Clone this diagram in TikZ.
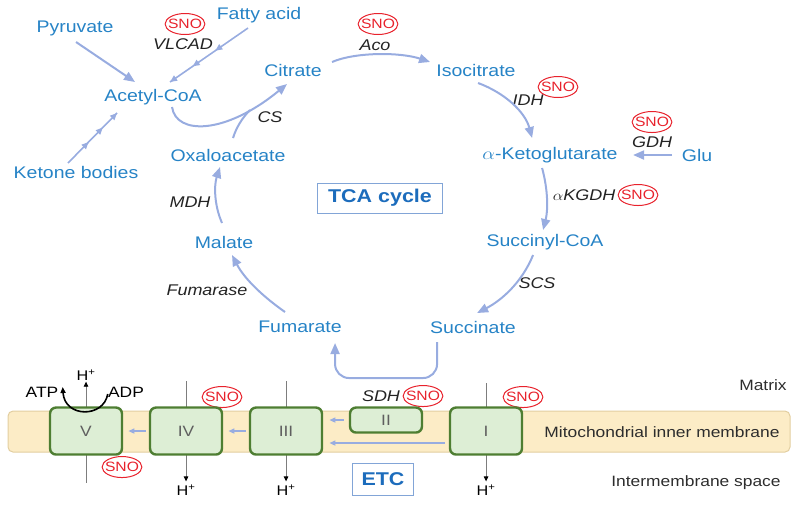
\documentclass[tikz,border=0pt]{standalone}
\usepackage{fontspec}
\setmainfont{Liberation Sans}
\usetikzlibrary{arrows.meta, calc, shapes.geometric, decorations.markings, backgrounds}
\definecolor{metblue}{RGB}{38,131,198}
\definecolor{arrowc}{RGB}{152,172,224}
\definecolor{snored}{RGB}{232,34,44}
\definecolor{enzgray}{RGB}{35,35,35}
\definecolor{labgray}{RGB}{45,45,45}
\definecolor{numgray}{RGB}{95,95,95}
\definecolor{linegray}{RGB}{125,125,125}
\definecolor{memfill}{RGB}{252,236,198}
\definecolor{memdraw}{RGB}{226,206,160}
\definecolor{cfill}{RGB}{221,238,213}
\definecolor{cdraw}{RGB}{78,126,50}
\definecolor{boxdraw}{RGB}{130,165,215}
\definecolor{boxtext}{RGB}{28,108,188}

\begin{document}
\begin{tikzpicture}[x=0.862pt, y=-1pt, xscale=1.16,
  every node/.append style={transform shape},
  met/.style={text=metblue, inner sep=1pt, font=\fontsize{16.8}{20}\selectfont},
  enz/.style={text=enzgray, inner sep=1pt, font=\fontsize{15.5}{18}\selectfont\itshape},
  sno/.style={ellipse, draw=snored, text=snored, line width=1pt, inner xsep=-2.5pt, inner ysep=0pt, minimum height=21pt, font=\fontsize{13.5}{15}\selectfont},
  cplx/.style={draw=cdraw, fill=cfill, line width=2.4pt, rounded corners=6pt, minimum width=62pt, minimum height=47pt, text=numgray, font=\fontsize{15}{18}\selectfont},
  lbl/.style={text=labgray, inner sep=1pt, font=\fontsize{15}{18}\selectfont},
  hplus/.style={inner sep=1pt, font=\fontsize{14}{16}\selectfont},
  titlebox/.style={draw=boxdraw, line width=1pt, text=boxtext, font=\fontsize{18.5}{22}\selectfont\bfseries},
  flow/.style={draw=arrowc, line width=2pt, -{Triangle[length=11pt,width=9pt]}},
  multi/.style={draw=arrowc, line width=1.6pt, postaction=decorate,
    decoration={markings,
      mark=at position 0.42 with {\arrow{Triangle[length=7pt,width=6pt]}},
      mark=at position 0.71 with {\arrow{Triangle[length=7pt,width=6pt]}},
      mark=at position 1 with {\arrow{Triangle[length=7pt,width=6pt]}}}},
  memflow/.style={draw=arrowc, line width=1.4pt, -{Triangle[length=6pt,width=5pt]}},
  proton/.style={draw=linegray, line width=0.8pt, -{Triangle[length=5pt,width=4.5pt,color=black]}},
  atpflow/.style={draw=black, line width=1.6pt, -{Triangle[length=6pt,width=5pt]}}]
\useasboundingbox (0,0) rectangle (800,504);

% metabolites
\node[met] (pyr) at (75,28) {Pyruvate};
\node[met] (fa) at (259,15) {Fatty acid};
\node[met] (acoa) at (153,97) {Acetyl-CoA};
\node[met] (ket) at (76,172) {Ketone bodies};
\node[met] (cit) at (293,70) {Citrate};
\node[met] (iso) at (476,70) {Isocitrate};
\node[met] (akg) at (550,155) {$\alpha$-Ketoglutarate};
\node[met] (glu) at (697,155) {Glu};
\node[met] (sca) at (545,242) {Succinyl-CoA};
\node[met] (suc) at (473,327) {Succinate};
\node[met] (fum) at (300,327) {Fumarate};
\node[met] (mal) at (224,242) {Malate};
\node[met] (oaa) at (228,155) {Oxaloacetate};
\node[titlebox, minimum width=107pt, minimum height=30pt] (tca) at (380,198) {TCA cycle};

% enzymes
\node[enz] (vlcad) at (183,44) {VLCAD};
\node[enz] (aco) at (375,45) {Aco};
\node[enz] (idh) at (528,100) {IDH};
\node[enz] (gdh) at (652,142) {GDH};
\node[enz] (akgdh) at (584,195) {$\alpha$KGDH};
\node[enz] (scs) at (537,283) {SCS};
\node[enz] (fumase) at (207,290) {Fumarase};
\node[enz] (mdh) at (190,202) {MDH};
\node[enz] (cs) at (270,117) {CS};
\node[enz] (sdh) at (381,396) {SDH};

% SNO sites
\foreach \n/\x/\y in {vlcad/185/24, aco/378/24, idh/558/87, gdh/652/122, akgdh/638/195,
                      sdh/423/396, cIV/222/397, cV/122/467, cI/523/397}
  \node[sno] (sno-\n) at (\x,\y) {SNO};

% TCA connectors
\draw[flow] ($(pyr)+(1,14)$) -- ($(acoa)+(-18,-15)$);
\draw[multi] ($(fa)+(-11,13)$) -- ($(acoa)+(17,-15)$);
\draw[multi] ($(ket)+(-8,-9)$) -- ($(acoa)+(-36,16)$);
\draw[flow] ($(acoa)+(19,10)$) .. controls ($(acoa)+(23,38)$) and ($(cit)+(-68,65)$) .. ($(cit)+(-6,14)$);
\draw[draw=arrowc, line width=2pt] ($(oaa)+(5,-17)$) .. controls ($(oaa)+(8,-27)$) and ($(oaa)+(14,-37)$) .. ($(oaa)+(22,-45)$);
\draw[flow] ($(cit)+(39,-8)$) .. controls ($(cit)+(62,-18)$) and ($(iso)+(-76,-18)$) .. ($(iso)+(-46,-8)$);
\draw[flow] ($(iso)+(2,13)$) .. controls ($(iso)+(29,23)$) and ($(akg)+(-25,-43)$) .. ($(akg)+(-18,-17)$);
\draw[flow] ($(akg)+(-8,13)$) .. controls ($(akg)+(-2,35)$) and ($(sca)+(3,-32)$) .. ($(sca)+(-2,-12)$);
\draw[flow] ($(sca)+(-12,13)$) .. controls ($(sca)+(-23,40)$) and ($(suc)+(29,-27)$) .. ($(suc)+(4,-14)$);
\draw[flow, rounded corners=14pt] ($(suc)+(-36,15)$) |- ($(fum)+(35,51)$) -- ($(fum)+(35,16)$);
\draw[flow] ($(fum)+(-15,-15)$) .. controls ($(fum)+(-35,-29)$) and ($(mal)+(21,38)$) .. ($(mal)+(8,13)$);
\draw[flow] ($(mal)+(-2,-19)$) .. controls ($(mal)+(-10,-37)$) and ($(oaa)+(-14,30)$) .. ($(oaa)+(-8,12)$);
\draw[flow] ($(glu)+(-25,0)$) -- ($(akg)+(83,0)$);

% membrane
\draw[draw=memdraw, fill=memfill, line width=1pt, rounded corners=5pt] (8,411) rectangle (790,452);
\foreach \n/\x/\t in {c5/86/V, c4/186/IV, c3/286/III, c1/486/I}
  \node[cplx] (\n) at (\x,431) {\t};
\node[cplx, minimum height=25pt] (c2) at (386,420) {II};

\node[lbl] (matrix) at (763,385) {Matrix};
\node[lbl] (imm) at (662,432) {Mitochondrial inner membrane};
\node[lbl] (ims) at (696,483) {Intermembrane space};
\node[titlebox, minimum width=52pt, minimum height=32pt] (etc) at (383,479) {ETC};

% protons
\node[hplus] (hV) at (86,375) {H\textsuperscript{+}};
\node[hplus] (hIV) at (186,490) {H\textsuperscript{+}};
\node[hplus] (hIII) at (286,490) {H\textsuperscript{+}};
\node[hplus] (hI) at (486,490) {H\textsuperscript{+}};
\begin{scope}[on background layer]
  \draw[proton] ($(c5.south)+(0,27)$) -- (hV.south);
  \draw[proton] ($(c4.north)+(0,-25)$) -- ($(hIV.north)+(0,-2)$);
  \draw[proton] ($(c3.north)+(0,-25)$) -- ($(hIII.north)+(0,-2)$);
  \draw[proton] ($(c1.north)+(0,-23)$) -- ($(hI.north)+(0,-2)$);
\end{scope}

% electron flow
\draw[memflow] ($(c2.west)+(-5,0)$) -- ($(c3.east)+(6,-11)$);
\draw[memflow] ($(c1.west)+(-4,12)$) -- ($(c3.east)+(6,12)$);
\draw[memflow] ($(c3.west)+(-3,0)$) -- ($(c4.east)+(5,0)$);
\draw[memflow] ($(c4.west)+(-3,0)$) -- ($(c5.east)+(5,0)$);

% ATP synthase
\node[lbl, text=black] (atp) at (42,392) {ATP};
\node[lbl, text=black] (adp) at (126,392) {ADP};
\draw[atpflow] ($(adp.west)+(1,2)$) .. controls ($(adp.west)+(-3,26)$) and ($(atp.east)+(5,26)$) .. ($(atp.east)+(3,-5)$);
\end{tikzpicture}
\end{document}
